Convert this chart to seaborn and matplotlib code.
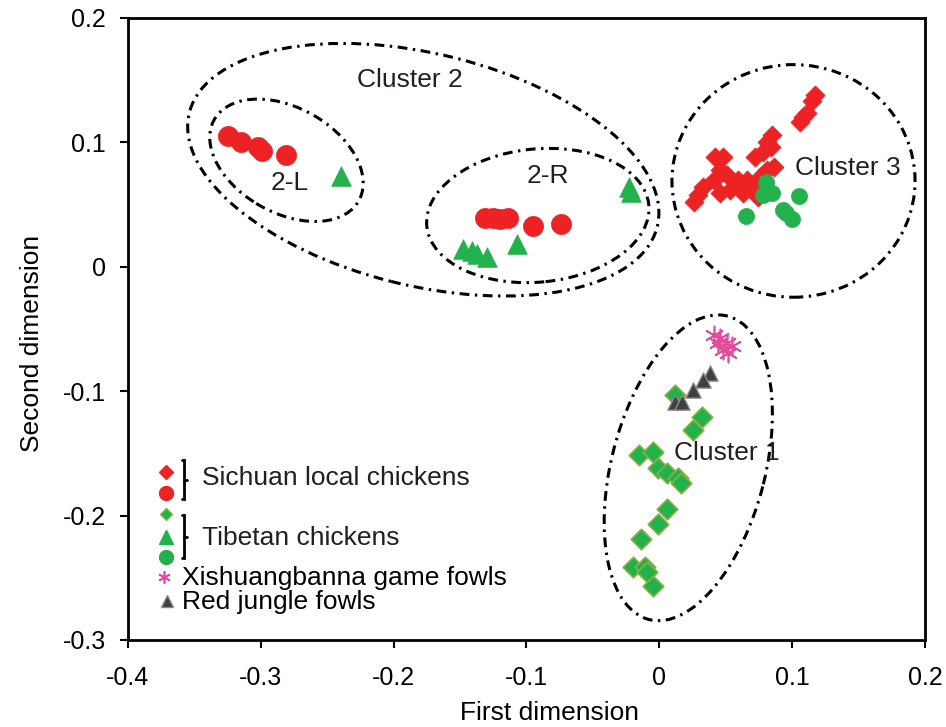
import matplotlib
matplotlib.use("Agg")
import matplotlib.pyplot as plt
from matplotlib.patches import Ellipse
import seaborn as sns

# --- data ---
sichuan_circle_x = [-0.325, -0.315, -0.302, -0.299, -0.281,
                    -0.131, -0.125, -0.120, -0.114, -0.095, -0.074]
sichuan_circle_y = [0.105, 0.100, 0.096, 0.093, 0.090,
                    0.039, 0.039, 0.038, 0.039, 0.033, 0.034]

sichuan_diamond_x = [0.117, 0.115, 0.111, 0.108, 0.106, 0.085, 0.081, 0.084,
                     0.048, 0.042, 0.072, 0.078, 0.086, 0.046, 0.051, 0.033,
                     0.029, 0.026, 0.041, 0.059, 0.066, 0.071, 0.063, 0.053,
                     0.074, 0.046, 0.076, 0.081]
sichuan_diamond_y = [0.138, 0.133, 0.124, 0.120, 0.116, 0.106, 0.100, 0.096,
                     0.088, 0.088, 0.088, 0.092, 0.080, 0.078, 0.074, 0.064,
                     0.058, 0.052, 0.070, 0.070, 0.070, 0.064, 0.059, 0.062,
                     0.056, 0.059, 0.072, 0.078]

tibet_triangle_x = [-0.240, -0.148, -0.141, -0.137, -0.130, -0.107, -0.023, -0.021]
tibet_triangle_y = [0.073, 0.014, 0.013, 0.010, 0.008, 0.018, 0.064, 0.060]

tibet_circle_x = [0.080, 0.085, 0.078, 0.105, 0.065, 0.093, 0.100, 0.095]
tibet_circle_y = [0.068, 0.059, 0.058, 0.057, 0.041, 0.046, 0.038, 0.043]

tibet_diamond_x = [0.012, 0.032, 0.025, -0.015, -0.005, -0.001, 0.006, 0.014,
                   0.016, 0.006, -0.001, -0.014, -0.020, -0.011, -0.009, -0.005]
tibet_diamond_y = [-0.103, -0.121, -0.131, -0.151, -0.149, -0.162, -0.166, -0.170,
                   -0.174, -0.195, -0.207, -0.219, -0.241, -0.241, -0.245, -0.257]

game_fowl_x = [0.041, 0.046, 0.051, 0.048, 0.055, 0.052, 0.044]
game_fowl_y = [-0.055, -0.057, -0.061, -0.067, -0.064, -0.069, -0.061]

jungle_fowl_x = [0.038, 0.033, 0.025, 0.012, 0.017]
jungle_fowl_y = [-0.085, -0.091, -0.099, -0.109, -0.109]

x_ticks = [-0.4, -0.3, -0.2, -0.1, 0, 0.1, 0.2]
x_tick_labels = ["-0.4", "-0.3", "-0.2", "-0.1", "0", "0.1", "0.2"]
y_ticks = [-0.3, -0.2, -0.1, 0, 0.1, 0.2]
y_tick_labels = ["-0.3", "-0.2", "-0.1", "0", "0.1", "0.2"]

# cluster outlines: centre x, centre y, width, height, angle
cluster_ellipses = [
    (-0.1777, 0.078, 0.364, 0.186, -15.1),   # Cluster 2
    (-0.2807, 0.0856, 0.127, 0.083, -33.3),  # 2-L
    (-0.0915, 0.0412, 0.168, 0.107, 6.3),    # 2-R
    (0.101, 0.069, 0.183, 0.187, 0),         # Cluster 3
    (0.0218, -0.1616, 0.251, 0.116, 76.8),   # Cluster 1
]
cluster_labels = [("Cluster 2", -0.188, 0.150), ("2-L", -0.278, 0.0673),
                  ("2-R", -0.0836, 0.0726), ("Cluster 3", 0.1416, 0.0793),
                  ("Cluster 1", 0.0505, -0.1498)]

RED = "#ED2224"
GREEN = "#22B14C"
OLIVE = "#86B33C"
PINK = "#E9479A"
GREY = "#3F3F3F"
TXT = "#231F20"
FS = 19

sns.set_theme(style="white")
plt.rcParams["font.family"] = ["Liberation Sans", "DejaVu Sans"]
plt.rcParams["axes.unicode_minus"] = False

fig = plt.figure(figsize=(9.46, 7.27), dpi=100)
ax = fig.add_axes([0.1353, 0.1197, 0.8425, 0.8556])

# points
sns.scatterplot(x=sichuan_diamond_x, y=sichuan_diamond_y, marker="D", s=95,
                color=RED, edgecolor=RED, linewidth=0.5, ax=ax, zorder=3)
sns.scatterplot(x=sichuan_circle_x, y=sichuan_circle_y, marker="o", s=210,
                color=RED, edgecolor=RED, linewidth=0.5, ax=ax, zorder=3)
sns.scatterplot(x=tibet_triangle_x, y=tibet_triangle_y, marker="^", s=200,
                color=GREEN, edgecolor=GREEN, linewidth=0.5, ax=ax, zorder=3)
sns.scatterplot(x=tibet_circle_x, y=tibet_circle_y, marker="o", s=135,
                color=GREEN, edgecolor=GREEN, linewidth=0.5, ax=ax, zorder=4)
sns.scatterplot(x=tibet_diamond_x, y=tibet_diamond_y, marker="D", s=110,
                color=GREEN, edgecolor=OLIVE, linewidth=1.2, ax=ax, zorder=3)
ax.scatter(game_fowl_x, game_fowl_y, marker=(6, 2, 0), s=170,
           color=PINK, linewidth=1.2, zorder=3)
sns.scatterplot(x=jungle_fowl_x, y=jungle_fowl_y, marker="^", s=120,
                color=GREY, edgecolor="#8A8A8A", linewidth=1.0, ax=ax, zorder=4)

# cluster outlines
for cx, cy, w, h, ang in cluster_ellipses:
    ax.add_patch(Ellipse((cx, cy), w, h, angle=ang, fill=False, color="black",
                         lw=2.2, linestyle=(0, (3.2, 1.8, 0.8, 1.8)), zorder=2))
for label, lx, ly in cluster_labels:
    ax.text(lx, ly, label, fontsize=FS, color=TXT, ha="center", va="center")

# hand-made legend with brackets
tr = ax.transAxes
ax.plot([0.0477], [0.2706], "D", ms=7.5, color=RED, transform=tr)
ax.plot([0.0477], [0.2368], "o", ms=10, color=RED, transform=tr)
ax.plot([0.0477], [0.2021], "D", ms=6.5, color=GREEN, mec=OLIVE, mew=1, transform=tr)
ax.plot([0.0477], [0.1651], "^", ms=10, color=GREEN, transform=tr)
ax.plot([0.0477], [0.1329], "o", ms=10, color=GREEN, transform=tr)
ax.plot([0.0452], [0.1008], marker=(6, 2, 0), ms=9, color=PINK, mew=1.2, transform=tr)
ax.plot([0.0485], [0.0632], "^", ms=9, color=GREY, mec="#8A8A8A", mew=1, transform=tr)
for top, bot in [(0.2894, 0.2262), (0.2009, 0.1313)]:
    mid = (top + bot) / 2
    ax.plot([0.0674, 0.0707, 0.0707, 0.0674], [top, top, bot, bot],
            color="black", lw=2, transform=tr, solid_joinstyle="miter")
    ax.plot([0.0707, 0.0745], [mid, mid], color="black", lw=2, transform=tr)
ax.text(0.0925, 0.2599, "Sichuan local chickens", fontsize=FS, color=TXT,
        va="center", transform=tr)
ax.text(0.0925, 0.1635, "Tibetan chickens", fontsize=FS, color=TXT,
        va="center", transform=tr)
ax.text(0.0674, 0.1002, "Xishuangbanna game fowls", fontsize=FS, color="black",
        va="center", transform=tr)
ax.text(0.0674, 0.0616, "Red jungle fowls", fontsize=FS, color="black",
        va="center", transform=tr)

# axes styling
ax.set_xlim(-0.4, 0.2)
ax.set_ylim(-0.3, 0.2)
ax.set_xticks(x_ticks)
ax.set_xticklabels(x_tick_labels)
ax.set_yticks(y_ticks)
ax.set_yticklabels(y_tick_labels)
ax.tick_params(axis="both", direction="out", length=6, width=1.5, color="black",
               labelsize=18, labelcolor="black", bottom=True, left=True)
ax.tick_params(axis="x", pad=13)
ax.tick_params(axis="y", pad=10)
for sp in ax.spines.values():
    sp.set_color("black")
    sp.set_linewidth(2)
ax.set_xlabel("First dimension", fontsize=FS, color="black")
ax.set_ylabel("Second dimension", fontsize=FS, color="black")
ax.xaxis.set_label_coords(0.529, -0.098)
ax.yaxis.set_label_coords(-0.105, 0.477)

fig.savefig("out.png", dpi=100)
